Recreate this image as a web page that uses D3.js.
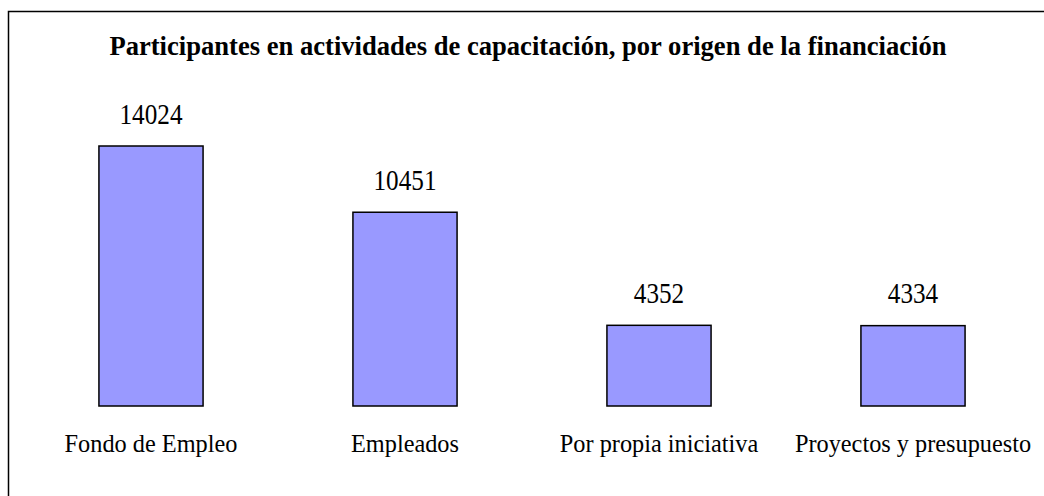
<!DOCTYPE html>
<html>
<head>
<meta charset="utf-8">
<script src="https://cdn.jsdelivr.net/npm/d3@7"></script>
<style>
  body { margin: 0; background: #fff; }
  text { font-family: "Liberation Serif", "Times New Roman", serif; fill: #000; }
</style>
</head>
<body>
<script>
let w = 1044;
let h = 496;

var categories = ["Fondo de Empleo", "Empleados", "Por propia iniciativa", "Proyectos y presupuesto"];
var values = [14024, 10451, 4352, 4334];
var title = "Participantes en actividades de capacitación, por origen de la financiación";

var svg = d3.select("body").append("svg")
    .attr("width", w)
    .attr("height", h);

// outer frame (only left and top edges show in the picture)
svg.append("rect")
    .attr("x", 8.5).attr("y", 11.5)
    .attr("width", w + 20).attr("height", h + 20)
    .attr("fill", "none")
    .attr("stroke", "#000")
    .attr("stroke-width", 1.5);

svg.append("text")
    .attr("x", 528).attr("y", 55)
    .attr("text-anchor", "middle")
    .attr("font-size", 26.6)
    .attr("font-weight", "bold")
    .text(title);

var x = d3.scaleBand()
    .domain(categories)
    .range([24, 1040])
    .paddingInner(0.59)
    .paddingOuter(0.295);

var y = d3.scaleLinear()
    .domain([0, 14024])
    .range([406, 146]);

svg.selectAll("rect.bar").data(values).enter().append("rect")
    .attr("class", "bar")
    .attr("x", (d, i) => x(categories[i]))
    .attr("y", d => y(d))
    .attr("width", x.bandwidth())
    .attr("height", d => y(0) - y(d))
    .attr("fill", "#9999ff")
    .attr("stroke", "#000")
    .attr("stroke-width", 1.5);

// value labels look a bit narrow in the original, so squeeze them
svg.selectAll("text.val").data(values).enter().append("text")
    .attr("class", "val")
    .attr("transform", (d, i) => `translate(${x(categories[i]) + x.bandwidth() / 2},${y(d) - 22.5}) scale(0.84,1)`)
    .attr("text-anchor", "middle")
    .attr("font-size", 30)
    .text(d => d);

svg.selectAll("text.cat").data(categories).enter().append("text")
    .attr("class", "cat")
    .attr("x", d => x(d) + x.bandwidth() / 2)
    .attr("y", 452)
    .attr("text-anchor", "middle")
    .attr("font-size", 24.3)
    .text(d => d);
</script>
</body>
</html>
